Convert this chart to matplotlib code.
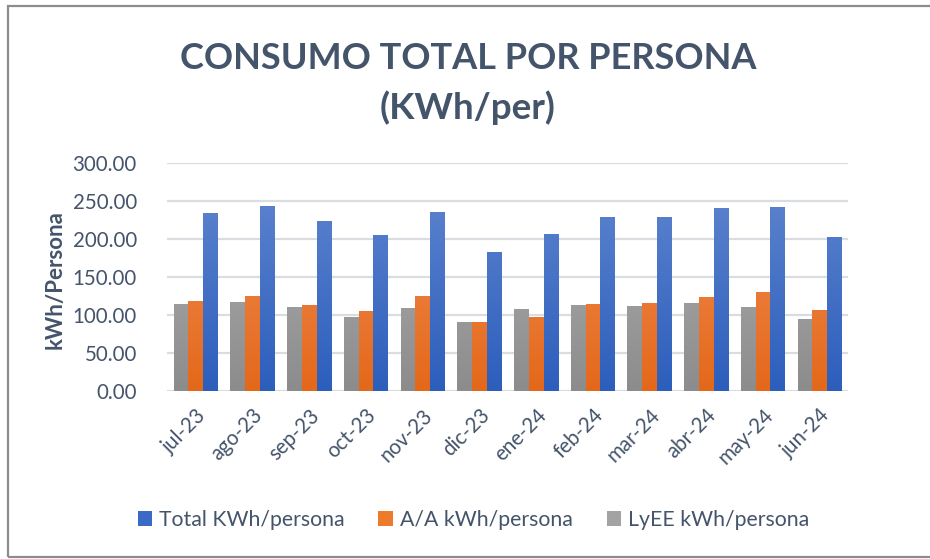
import matplotlib
matplotlib.use("Agg")
import matplotlib.pyplot as plt
import numpy as np
from matplotlib.patches import Rectangle, Patch
from matplotlib.colors import LinearSegmentedColormap

plt.rcParams['font.family'] = ['Lato', 'DejaVu Sans']

months = ["jul-23", "ago-23", "sep-23", "oct-23", "nov-23", "dic-23",
          "ene-24", "feb-24", "mar-24", "abr-24", "may-24", "jun-24"]
total = [234, 243, 223, 205, 235, 183, 206, 229, 229, 241, 242, 203]
aa = [118.5, 125, 113.3, 105.4, 125, 91, 97.5, 114.6, 116, 123.8, 130.3, 106.7]
lyee = [114.6, 117, 110.6, 97.5, 109.3, 91, 108, 113.3, 112, 116, 110.6, 95]
yticks = [0, 50, 100, 150, 200, 250, 300]

TXT = "#44546A"
fig = plt.figure(figsize=(9.3, 5.59), dpi=100)
ax = fig.add_axes([0.180, 0.300, 0.732, 0.409])

x = np.arange(len(months))
w = 0.26
series = [
    (lyee, -w, "#B5B5B5", "#8C8C8C"),
    (aa, 0.0, "#F2935F", "#E4681A"),
    (total, w, "#6388D0", "#2C5EBC"),
]
for vals, off, ctop, cbot in series:
    cmap = LinearSegmentedColormap.from_list("g", [cbot, ctop])
    bars = ax.bar(x + off, vals, width=w, color=cbot, linewidth=0, zorder=2)
    for b in bars:
        bx = b.get_x()
        bw = b.get_width()
        grad = np.linspace(0, 1, 256).reshape(-1, 1)
        im = ax.imshow(grad, cmap=cmap, origin="lower", aspect="auto",
                       extent=[bx, bx + bw, 0, 300], zorder=3,
                       interpolation="bilinear")
        im.set_clip_path(b)

ax.set_xlim(-0.5, len(months) - 0.5)
ax.set_ylim(0, 300)
ax.set_yticks(yticks)
ax.set_yticklabels([f"{v:.2f}" for v in yticks])
ax.set_xticks(x)
ax.set_xticklabels(months, rotation=45, ha="right", rotation_mode="anchor")
ax.tick_params(axis="both", length=0, labelsize=14.8, colors=TXT)
ax.tick_params(axis="y", pad=22)
ax.tick_params(axis="x", pad=10)
for s in ax.spines.values():
    s.set_visible(False)
ax.grid(axis="y", color="#D9DDE2", linewidth=1.6, zorder=0)
ax.set_axisbelow(True)
ax.set_ylabel("kWh/Persona", fontsize=16, fontweight="bold", color=TXT)
ax.yaxis.set_label_coords(-0.150, 0.49)

fig.text(0.503, 0.895, "CONSUMO TOTAL POR PERSONA", ha="center", va="center",
         fontsize=26, fontweight="bold", color=TXT)
fig.text(0.503, 0.808, "(KWh/per)", ha="center", va="center",
         fontsize=26.5, fontweight="bold", color=TXT)

handles = [Patch(facecolor="#3A69C6", edgecolor="none"),
           Patch(facecolor="#EE7A2B", edgecolor="none"),
           Patch(facecolor="#A3A3A3", edgecolor="none")]
labels = ["Total KWh/persona", "A/A kWh/persona", "LyEE kWh/persona"]
fig.legend(handles, labels, loc="center", bbox_to_anchor=(0.509, 0.070), ncol=3,
           frameon=False, fontsize=15.3, handlelength=0.7, handleheight=0.7,
           handletextpad=0.3, columnspacing=1.6, labelcolor=TXT)

border = Rectangle((8 / 930, 1 - 557 / 559), 1.0, (557 - 5.5) / 559,
                   transform=fig.transFigure, fill=False, edgecolor="#8C8C8C",
                   linewidth=1.6, clip_on=False)
fig.patches.append(border)

fig.savefig("out.png", dpi=100)
